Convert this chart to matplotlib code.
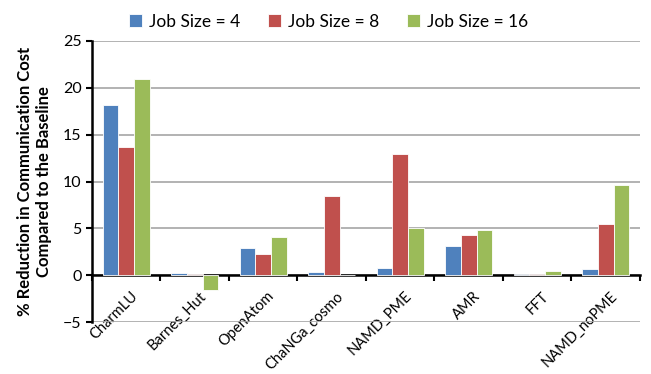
import numpy as np
import matplotlib.pyplot as plt

plt.rcParams['font.family'] = ['Lato', 'DejaVu Sans']

apps = ['CharmLU', 'Barnes_Hut', 'OpenAtom', 'ChaNGa_cosmo', 'NAMD_PME',
        'AMR', 'FFT', 'NAMD_noPME']
size4 = [18.2, 0.18, 2.9, 0.36, 0.8, 3.1, 0.12, 0.7]
size8 = [13.7, 0.08, 2.3, 8.5, 12.95, 4.3, 0.12, 5.45]
size16 = [20.9, -1.6, 4.05, 0.0, 5.05, 4.8, 0.45, 9.65]
labels = ['Job Size = 4', 'Job Size = 8', 'Job Size = 16']
colors = ['#4F81BD', '#C0504D', '#9BBB59']

fig = plt.figure(figsize=(6.51, 3.74), dpi=100)
ax = fig.add_axes([0.1413, 0.139, 0.983 - 0.1413, 0.8904 - 0.139])

x = np.arange(len(apps))
w = 0.23
for k, (vals, lab, c) in enumerate(zip([size4, size8, size16], labels, colors)):
    ax.bar(x + (k - 1) * w, vals, w, color=c, label=lab,
           edgecolor='white', linewidth=0.6, zorder=3)

ax.set_xlim(-0.5, len(apps) - 0.5)
ax.set_ylim(-5, 25)
ax.set_yticks(np.arange(-5, 26, 5))
ax.yaxis.grid(True, color='#A6A6A6', linewidth=1.2, zorder=0)
ax.tick_params(axis='y', labelsize=11.5, length=4, width=1.5, direction='out')

ax.spines['bottom'].set_position(('data', 0))
ax.spines['bottom'].set_linewidth(1.8)
ax.spines['left'].set_linewidth(1.8)
ax.spines['top'].set_visible(False)
ax.spines['right'].set_visible(False)

ax.set_xticks(x + 0.06)
ax.set_xticklabels(apps, rotation=45, ha='right', rotation_mode='anchor',
                   fontsize=10.5)
ax.set_xticks(np.arange(-0.5, len(apps), 1), minor=True)
ax.tick_params(axis='x', which='major', length=0, pad=10)
ax.tick_params(axis='x', which='minor', length=4, width=1.5, direction='out')

ax.set_ylabel('% Reduction in Communication Cost\nCompared to the Baseline',
              fontsize=12, fontweight='bold', labelpad=8)

fig.legend(loc='upper center', bbox_to_anchor=(0.505, 1.005), ncol=3,
           frameon=False, fontsize=12.5, handlelength=0.75, handleheight=0.75,
           columnspacing=1.6, handletextpad=0.4)

fig.savefig('out.png', dpi=100)
